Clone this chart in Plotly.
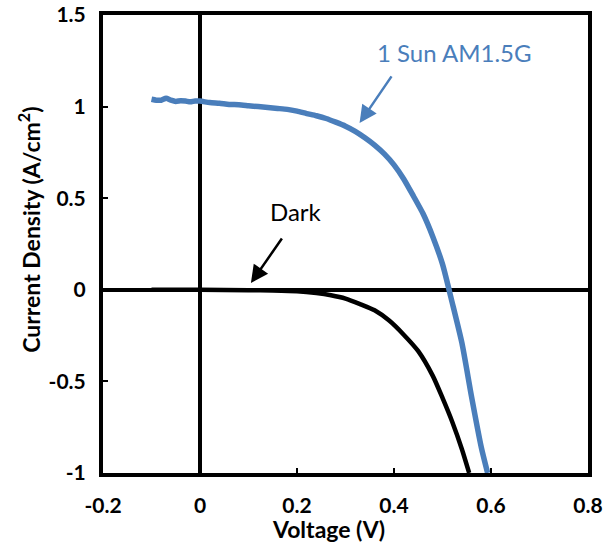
import plotly.graph_objects as go

# Light (1 Sun AM1.5G) J-V curve
light_v = [-0.10, -0.09, -0.08, -0.07, -0.06, -0.05, -0.04, -0.03, -0.02, -0.01, 0.00,
           0.02, 0.04, 0.06, 0.08, 0.10, 0.12, 0.14, 0.16, 0.18, 0.20, 0.22, 0.24, 0.26,
           0.28, 0.30, 0.32, 0.34, 0.36, 0.38, 0.40, 0.42, 0.44, 0.46, 0.48, 0.50, 0.52,
           0.54, 0.56, 0.58, 0.593]
light_j = [1.040, 1.035, 1.035, 1.045, 1.035, 1.028, 1.032, 1.030, 1.026, 1.031, 1.030,
           1.022, 1.018, 1.012, 1.010, 1.005, 1.000, 0.995, 0.990, 0.985, 0.975, 0.962, 0.950, 0.935,
           0.915, 0.893, 0.865, 0.830, 0.790, 0.742, 0.682, 0.605, 0.512, 0.415, 0.290, 0.140, -0.070,
           -0.290, -0.585, -0.860, -1.000]

# Dark J-V curve
dark_v = [-0.10, 0.00, 0.10, 0.15, 0.20, 0.24, 0.27, 0.30, 0.33, 0.36, 0.39, 0.42, 0.45,
          0.48, 0.50, 0.52, 0.54, 0.555]
dark_j = [0.000, 0.000, -0.002, -0.004, -0.008, -0.018, -0.030, -0.048, -0.078, -0.112,
          -0.168, -0.245, -0.335, -0.470, -0.590, -0.720, -0.870, -1.000]

x_ticks = [-0.2, 0, 0.2, 0.4, 0.6, 0.8]
x_tick_labels = ["-0.2", "0", "0.2", "0.4", "0.6", "0.8"]
y_ticks = [-1, -0.5, 0, 0.5, 1, 1.5]
y_tick_labels = ["-1", "-0.5", "0", "0.5", "1", "1.5"]

BLUE = "#4a7ebb"
FONT = "Lato"

fig = go.Figure()
fig.add_trace(go.Scatter(x=dark_v, y=dark_j, mode="lines",
                         line=dict(color="black", width=4.5, shape="spline", smoothing=0.6),
                         showlegend=False))
fig.add_trace(go.Scatter(x=light_v, y=light_j, mode="lines",
                         line=dict(color=BLUE, width=5.5, shape="spline", smoothing=0.6),
                         showlegend=False))

axis_common = dict(showgrid=False, showline=True, linecolor="black", linewidth=4,
                   mirror=True, ticks="inside", ticklen=5, tickwidth=2, tickcolor="black",
                   zeroline=True, zerolinecolor="black", zerolinewidth=4, automargin=False,
                   ticklabeloverflow="allow",
                   tickfont=dict(family=FONT, size=21, color="black", weight="bold"))

fig.update_xaxes(range=[-0.2, 0.8], tickvals=x_ticks, ticktext=x_tick_labels,
                 ticklabelstandoff=11, **axis_common)
fig.update_yaxes(range=[-1, 1.5], tickvals=y_ticks, ticktext=y_tick_labels,
                 ticklabelstandoff=9, **axis_common)

# arrows
fig.add_annotation(x=0.329, y=0.910, ax=0.397, ay=1.173, xref="x", yref="y",
                   axref="x", ayref="y", text="", showarrow=True, arrowhead=2,
                   arrowsize=1.4, arrowwidth=2.5, arrowcolor=BLUE)
fig.add_annotation(x=0.105, y=0.037, ax=0.171, ay=0.288, xref="x", yref="y",
                   axref="x", ayref="y", text="", showarrow=True, arrowhead=2,
                   arrowsize=1.4, arrowwidth=2.5, arrowcolor="black")
# labels
fig.add_annotation(x=0.525, y=1.298, xref="x", yref="y", text="1 Sun AM1.5G",
                   showarrow=False, font=dict(family=FONT, size=24, color=BLUE))
fig.add_annotation(x=0.198, y=0.425, xref="x", yref="y", text="Dark",
                   showarrow=False, font=dict(family=FONT, size=24, color="black"))
# axis titles
fig.add_annotation(x=0.464, y=-0.122, xref="paper", yref="paper", text="Voltage (V)",
                   xanchor="center", yanchor="middle", showarrow=False,
                   font=dict(family=FONT, size=23, color="black", weight="bold"))
fig.add_annotation(x=-0.1505, y=0.531, xref="paper", yref="paper",
                   text="Current Density (A/cm<sup>2</sup>)", textangle=-90,
                   xanchor="center", yanchor="middle", showarrow=False,
                   font=dict(family=FONT, size=23, color="black", weight="bold"))

fig.update_layout(width=610, height=549, margin=dict(l=103, r=22, t=15, b=76),
                  plot_bgcolor="white", paper_bgcolor="white")

fig.write_html("out.html", config={"displayModeBar": False},
               post_script="document.body.style.margin='0';")
